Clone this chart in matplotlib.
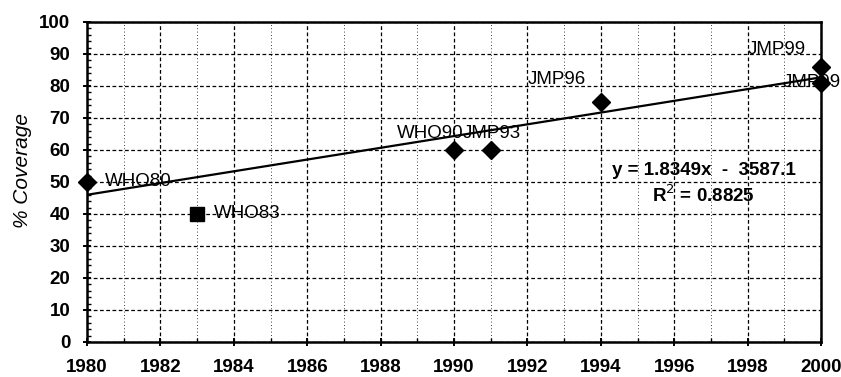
import matplotlib.pyplot as plt
import numpy as np
from matplotlib.ticker import MultipleLocator

# Survey data (year, % coverage)
years = [1980, 1983, 1990, 1991, 1994, 2000, 2000]
coverage = [50, 40, 60, 60, 75, 86, 81]
labels = ['WHO80', 'WHO83', 'WHO90', 'JMP93', 'JMP96', 'JMP99', 'JMP99']
markers = ['D', 's', 'D', 'D', 'D', 'D', 'D']
# label anchor (year, value) as printed on the chart
label_x = [1980.5, 1983.45, 1988.45, 1990.25, 1992.0, 1998.0, 1998.95]
label_y = [50, 40, 65.3, 65.3, 82, 91.3, 81]

# linear trendline as reported
slope = 1.8349
intercept = -3587.1
r2 = 0.8825

plt.rcParams['font.family'] = ['Liberation Sans', 'DejaVu Sans']

fig = plt.figure(figsize=(8.41, 3.77), dpi=100)
ax = fig.add_axes([87 / 841, 1 - 342 / 377, (821 - 87) / 841, (342 - 22) / 377])

tx = np.array([1980, 2000])
ax.plot(tx, slope * tx + intercept, color='black', lw=1.6, zorder=3)

for x, y, m in zip(years, coverage, markers):
    ax.plot(x, y, marker=m, color='black', ms=9 if m == 'D' else 10,
            linestyle='none', zorder=4, clip_on=False)

for lx, ly, t in zip(label_x, label_y, labels):
    ax.text(lx, ly, t, fontsize=13.5, va='center', ha='left', zorder=5)

ax.text(1996.8, 53.7, f'y = {slope}x  -  {-intercept}', fontsize=13.5,
        fontweight='bold', ha='center', va='center')
ax.text(1996.8, 46.0, f'R$^2$ = {r2}', fontsize=13.5, fontweight='bold',
        ha='center', va='center')

ax.set_xlim(1980, 2000)
ax.set_ylim(0, 100)
ax.xaxis.set_major_locator(MultipleLocator(2))
ax.xaxis.set_minor_locator(MultipleLocator(1))
ax.yaxis.set_major_locator(MultipleLocator(10))
ax.yaxis.set_minor_locator(MultipleLocator(2))

ax.grid(which='major', color='black', linestyle=(0, (3, 2)), lw=0.9)
ax.grid(which='minor', axis='x', color='black', linestyle=(0, (1, 3)), lw=0.6)

ax.tick_params(which='major', direction='inout', length=6, width=1.4,
               labelsize=13.5)
ax.tick_params(axis='y', which='major', pad=9)
ax.tick_params(axis='x', which='major', pad=9)
ax.tick_params(which='minor', direction='in', length=3, width=1)
for lab in ax.get_xticklabels() + ax.get_yticklabels():
    lab.set_fontweight('bold')

for s in ax.spines.values():
    s.set_linewidth(1.8)

ax.set_ylabel('% Coverage', fontsize=15, style='italic')
ax.yaxis.set_label_coords(-55 / 734, (342 - 171) / 320)

fig.savefig('out.png', dpi=100)
